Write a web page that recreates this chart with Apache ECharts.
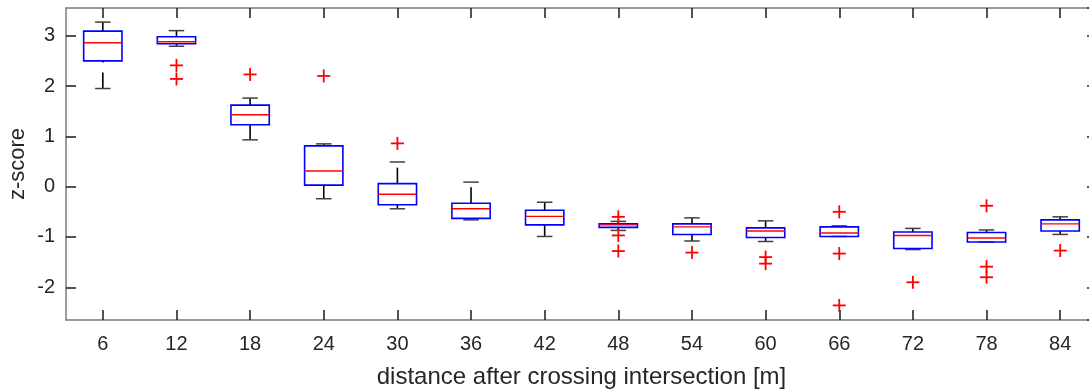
<!DOCTYPE html>
<html>
<head>
<meta charset="utf-8">
<script src="https://cdn.jsdelivr.net/npm/echarts@6/dist/echarts.min.js"></script>
<style>
  html, body { margin: 0; padding: 0; background: #fff; }
  #chart { width: 1089px; height: 389px; }
</style>
</head>
<body>
<div id="chart"></div>
<script>
// Distance bins (m) after crossing the intersection
const categories = ['6', '12', '18', '24', '30', '36', '42', '48', '54', '60', '66', '72', '78', '84'];

// Box statistics per bin (z-score)
const lowerWhisker = [1.95, 2.79, 0.93, -0.24, -0.44, -0.66, -0.99, -0.87, -1.08, -1.09, -0.99, -1.25, -1.10, -0.95];
const q1           = [2.50, 2.84, 1.23,  0.03, -0.36, -0.63, -0.76, -0.81, -0.95, -1.01, -0.99, -1.23, -1.10, -0.88];
const median       = [2.86, 2.88, 1.43,  0.31, -0.15, -0.44, -0.59, -0.76, -0.80, -0.88, -0.92, -0.97, -1.02, -0.74];
const q3           = [3.09, 2.98, 1.62,  0.81,  0.06, -0.33, -0.47, -0.74, -0.74, -0.82, -0.80, -0.90, -0.91, -0.66];
const upperWhisker = [3.27, 3.10, 1.76,  0.85,  0.49,  0.09, -0.31, -0.69, -0.62, -0.68, -0.78, -0.83, -0.86, -0.60];

// Outliers as [bin index, z-score]
const outliers = [
  [1, 2.41], [1, 2.14],
  [2, 2.23],
  [3, 2.20],
  [4, 0.86],
  [7, -0.60], [7, -0.97], [7, -1.28],
  [8, -1.31],
  [9, -1.40], [9, -1.53],
  [10, -0.50], [10, -1.33], [10, -2.36],
  [11, -1.90],
  [12, -0.38], [12, -1.59], [12, -1.80],
  [13, -1.27]
];

const yMin = -2.65, yMax = 3.55;

const boxData = categories.map((c, i) => [i, lowerWhisker[i], q1[i], median[i], q3[i], upperWhisker[i]]);

const axisGray = '#7a7a7a';
const tickColor = '#262626';
const textColor = '#262626';
const fontFamily = '"Liberation Sans", Arial, Helvetica, sans-serif';

function renderBox(params, api) {
  const idx = api.value(0);
  const pLow = api.coord([idx, api.value(1)]);
  const pQ1 = api.coord([idx, api.value(2)]);
  const pMed = api.coord([idx, api.value(3)]);
  const pQ3 = api.coord([idx, api.value(4)]);
  const pHigh = api.coord([idx, api.value(5)]);
  const band = api.size([1, 0])[0];
  const half = band * 0.26;
  const capHalf = band * 0.105;
  const x = pMed[0];
  const whiskerStyle = { stroke: '#000', lineWidth: 1.6, lineDash: [16, 10], fill: null };
  const capStyle = { stroke: '#404040', lineWidth: 1.5, fill: null };
  return {
    type: 'group',
    children: [
      // lower whisker drawn upward from the lower adjacent value
      { type: 'line', shape: { x1: x, y1: pLow[1], x2: x, y2: pQ1[1] }, style: whiskerStyle },
      // upper whisker drawn upward from the third quartile
      { type: 'line', shape: { x1: x, y1: pQ3[1], x2: x, y2: pHigh[1] }, style: whiskerStyle },
      { type: 'line', shape: { x1: x - capHalf, y1: pLow[1], x2: x + capHalf, y2: pLow[1] }, style: capStyle },
      { type: 'line', shape: { x1: x - capHalf, y1: pHigh[1], x2: x + capHalf, y2: pHigh[1] }, style: capStyle },
      { type: 'rect', shape: { x: x - half, y: pQ3[1], width: half * 2, height: pQ1[1] - pQ3[1] },
        style: { stroke: '#0000ff', lineWidth: 1.6, fill: null } },
      { type: 'line', shape: { x1: x - half, y1: pMed[1], x2: x + half, y2: pMed[1] },
        style: { stroke: '#ff0000', lineWidth: 1.4, fill: null } }
    ]
  };
}

function renderOutlier(params, api) {
  const p = api.coord([api.value(0), api.value(1)]);
  const r = 6.5;
  const st = { stroke: '#ff0000', lineWidth: 1.8, fill: null };
  return {
    type: 'group',
    children: [
      { type: 'line', shape: { x1: p[0] - r, y1: p[1], x2: p[0] + r, y2: p[1] }, style: st },
      { type: 'line', shape: { x1: p[0], y1: p[1] - r, x2: p[0], y2: p[1] + r }, style: st }
    ]
  };
}

const chart = echarts.init(document.getElementById('chart'), null, { renderer: 'canvas' });

const xAxisCommon = {
  type: 'category',
  data: categories,
  boundaryGap: true,
  axisLine: { show: true, onZero: false, lineStyle: { color: axisGray, width: 1.5 } },
  axisTick: { show: true, inside: true, alignWithLabel: true, length: 10, lineStyle: { color: tickColor, width: 1.6 } },
  splitLine: { show: false }
};
const yAxisCommon = {
  type: 'value',
  min: yMin,
  max: yMax,
  axisLine: { show: true, onZero: false, lineStyle: { color: axisGray, width: 1.5 } },
  axisTick: { show: true, inside: true, length: 10, lineStyle: { color: tickColor, width: 1.6 } },
  splitLine: { show: false }
};

chart.setOption({
  animation: false,
  backgroundColor: '#ffffff',
  // the plot frame runs a few pixels past the right edge of the canvas
  grid: { left: 66, top: 8, width: 1031, height: 312, containLabel: false, outerBoundsMode: 'none' },
  xAxis: [
    Object.assign({}, xAxisCommon, {
      position: 'bottom',
      axisLabel: { show: true, color: textColor, fontSize: 20, fontFamily: fontFamily, margin: 14 },
      name: 'distance after crossing intersection [m]',
      nameLocation: 'middle',
      nameGap: 45,
      nameMoveOverlap: false,
      nameTextStyle: { color: textColor, fontSize: 24, fontFamily: fontFamily }
    }),
    Object.assign({}, xAxisCommon, { position: 'top', axisLabel: { show: false } })
  ],
  yAxis: [
    Object.assign({}, yAxisCommon, {
      position: 'left',
      axisLabel: { show: true, color: textColor, fontSize: 20, fontFamily: fontFamily, margin: 11,
                   showMinLabel: false, showMaxLabel: false,
                   formatter: v => (Math.abs(v - Math.round(v)) < 1e-9 ? String(Math.round(v)) : '') },
      name: 'z-score',
      nameLocation: 'middle',
      nameGap: 37,
      nameRotate: 90,
      nameMoveOverlap: false,
      nameTextStyle: { color: textColor, fontSize: 22, fontFamily: fontFamily }
    }),
    Object.assign({}, yAxisCommon, { position: 'right', axisLabel: { show: false } })
  ],
  series: [
    {
      type: 'custom',
      xAxisIndex: 0,
      yAxisIndex: 0,
      renderItem: renderBox,
      encode: { x: 0, y: [1, 2, 3, 4, 5] },
      data: boxData,
      z: 2
    },
    {
      type: 'custom',
      xAxisIndex: 0,
      yAxisIndex: 0,
      renderItem: renderOutlier,
      encode: { x: 0, y: 1 },
      data: outliers,
      z: 3
    }
  ]
});
</script>
</body>
</html>
